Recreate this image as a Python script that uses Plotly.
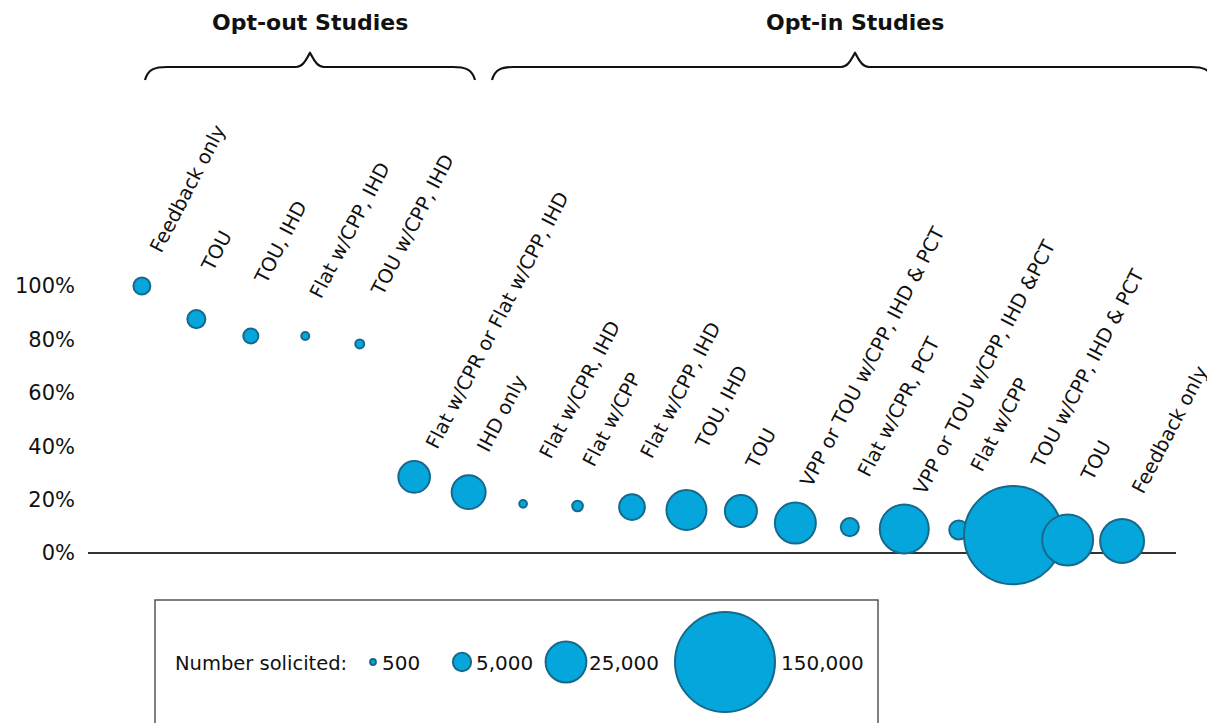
import plotly.graph_objects as go

# programs in the order they appear, left to right
programs = ["Feedback only", "TOU", "TOU, IHD", "Flat w/CPP, IHD", "TOU w/CPP, IHD",
            "Flat w/CPR or Flat w/CPP, IHD", "IHD only", "Flat w/CPR, IHD", "Flat w/CPP",
            "Flat w/CPP, IHD", "TOU, IHD", "TOU", "VPP or TOU w/CPP, IHD & PCT",
            "Flat w/CPR, PCT", "VPP or TOU w/CPP, IHD &PCT", "Flat w/CPP",
            "TOU w/CPP, IHD & PCT", "TOU", "Feedback only"]
enrolled_pct = [100, 87.6, 81.3, 81.3, 78.3, 28.5, 22.8, 18.4, 17.6, 17.2, 16.1, 15.7,
                11.2, 9.7, 9.0, 8.6, 6.7, 4.9, 4.5]
solicited = [4300, 4900, 3400, 950, 1200, 15000, 17300, 900, 1700, 9900, 24000, 15400,
             25200, 4900, 36000, 5400, 145000, 39000, 29000]

legend_sizes = [500, 5000, 25000, 150000]
legend_labels = ["500", "5,000", "25,000", "150,000"]
groups = ["Opt-out Studies", "Opt-in Studies"]
y_ticks = [0, 20, 40, 60, 80, 100]

W, H = 1215, 723
OFF = 8                  # page body margin
L, R = 88, 1176          # plot area in screen pixels
FILL = "#05A6DB"
EDGE = "#17698C"
FONT = "DejaVu Sans"
sizeref = 2 * max(legend_sizes) / 100 ** 2


def px(x):
    return (x - L) / (R - L)


def py(y):
    return 1 - (y - OFF) / H


def brace(x0, xm, x1, top=53, mid=67, bot=80):
    pts = [
        f"M {px(x0)},{py(bot)}",
        f"C {px(x0 + 3)},{py(mid + 2)} {px(x0 + 10)},{py(mid)} {px(x0 + 22)},{py(mid)}",
        f"L {px(xm - 14)},{py(mid)}",
        f"C {px(xm - 6)},{py(mid)} {px(xm - 3)},{py(top + 4)} {px(xm)},{py(top)}",
        f"C {px(xm + 3)},{py(top + 4)} {px(xm + 6)},{py(mid)} {px(xm + 14)},{py(mid)}",
        f"L {px(x1 - 22)},{py(mid)}",
        f"C {px(x1 - 10)},{py(mid)} {px(x1 - 3)},{py(mid + 2)} {px(x1)},{py(bot)}",
    ]
    return " ".join(pts)


fig = go.Figure()

fig.add_trace(go.Scatter(
    x=list(range(len(programs))), y=enrolled_pct, mode="markers",
    marker=dict(size=solicited, sizemode="area", sizeref=sizeref, color=FILL,
                opacity=1, line=dict(color=EDGE, width=2)),
    cliponaxis=False, hoverinfo="skip", showlegend=False,
))

# size key inside the box at the bottom
key_x = [373, 462, 566, 725]
key_text_x = [380, 474, 587, 779]
fig.add_trace(go.Scatter(
    x=key_x, y=[662] * 4, xaxis="x2", yaxis="y2", mode="markers",
    marker=dict(size=legend_sizes, sizemode="area", sizeref=sizeref, color=FILL,
                opacity=1, line=dict(color=EDGE, width=2)),
    cliponaxis=False, hoverinfo="skip", showlegend=False,
))

# label offsets (pixels from bubble centre to text start)
label_dx = [11, 7, 6, 7, 14, 14, 11, 19, 8, 11, 11, 7, 8, 11, 12, 15, 20, 16, 13]
label_dy = [35, 49, 54, 39, 49, 30, 42, 47, 41, 50, 63, 44, 38, 52, 36, 60, 68, 60, 49]

annotations = []
for i, (name, v) in enumerate(zip(programs, enrolled_pct)):
    annotations.append(dict(
        x=i, y=v, xref="x", yref="y", text=name, showarrow=False, textangle=-62.5,
        xanchor="left", yanchor="bottom", xshift=label_dx[i] - 10, yshift=label_dy[i] - 8,
        font=dict(family=FONT, size=19.5, color="#111"),
    ))

for name, cx in zip(groups, [310, 855]):
    annotations.append(dict(x=px(cx), y=py(22), xref="paper", yref="paper",
                            text=f"<b>{name}</b>", showarrow=False,
                            font=dict(family=FONT, size=22, color="#111"),
                            xanchor="center", yanchor="middle"))
annotations.append(dict(x=px(173), y=py(663), xref="paper", yref="paper",
                        text="Number solicited:", showarrow=False,
                        font=dict(family=FONT, size=19.5, color="#111"),
                        xanchor="left", yanchor="middle"))
for lab, tx in zip(legend_labels, key_text_x):
    annotations.append(dict(x=px(tx), y=py(663), xref="paper", yref="paper",
                            text=lab, showarrow=False,
                            font=dict(family=FONT, size=20, color="#111"),
                            xanchor="left", yanchor="middle"))

shapes = [
    dict(type="path", xref="paper", yref="paper", path=brace(145, 310, 475),
         line=dict(color="#111", width=2.2)),
    dict(type="path", xref="paper", yref="paper", path=brace(492, 855, 1213),
         line=dict(color="#111", width=2.2)),
    dict(type="rect", xref="paper", yref="paper", x0=px(155), x1=px(878),
         y0=py(750), y1=py(600), line=dict(color="#555", width=1.5), layer="below"),
]

# y range so that 0% sits at 553px and 100% at 286px on screen
y_top = (553 - OFF) / 2.67
y_bot = (553 - OFF - H) / 2.67

fig.update_layout(
    width=W, height=H,
    margin=dict(l=L - OFF, r=W - R + OFF, t=0, b=0),
    paper_bgcolor="white", plot_bgcolor="white",
    font=dict(family=FONT, color="#111"),
    xaxis=dict(range=[-0.99, 18.99], visible=False, fixedrange=True),
    yaxis=dict(range=[y_bot, y_top], showgrid=False, zeroline=True,
               zerolinecolor="#333", zerolinewidth=1.5, showline=False,
               tickvals=y_ticks, ticktext=[f"{t}%" for t in y_ticks],
               tickfont=dict(family=FONT, size=21, color="#111"),
               ticks="", ticklabelstandoff=12),
    xaxis2=dict(range=[L, R], overlaying="x", visible=False),
    yaxis2=dict(range=[H + OFF, OFF], overlaying="y", visible=False),
    shapes=shapes,
    annotations=annotations,
)

fig.write_html("out.html")
